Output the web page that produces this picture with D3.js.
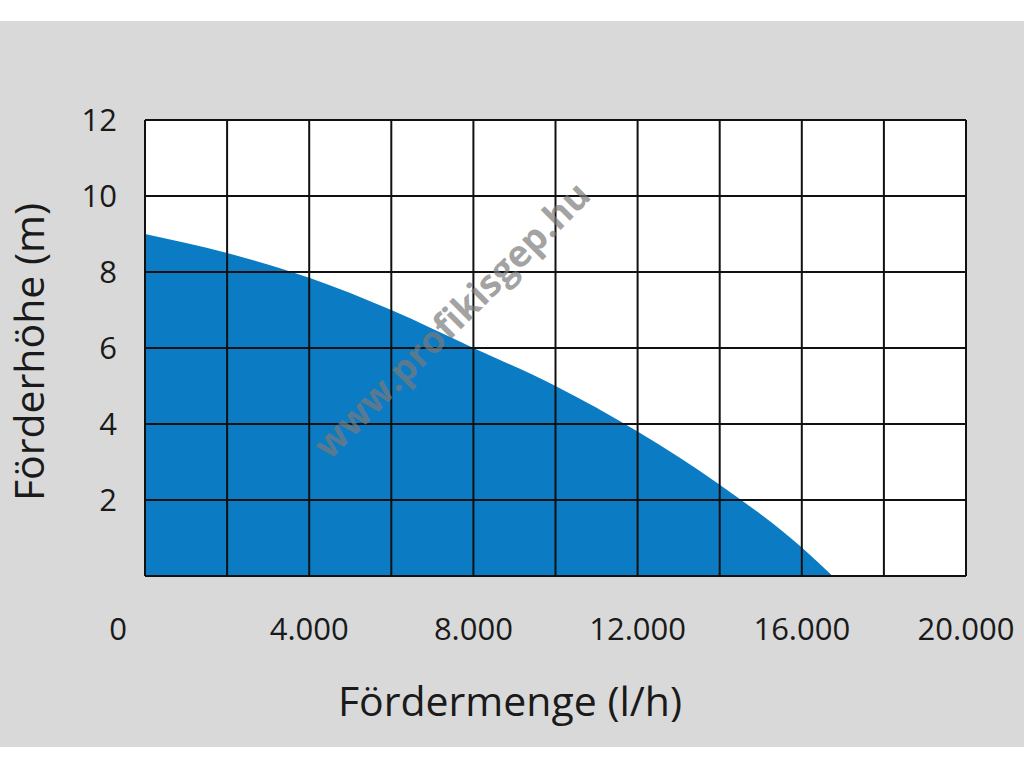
<!DOCTYPE html>
<html>
<head>
<meta charset="utf-8">
<script src="https://cdnjs.cloudflare.com/ajax/libs/d3/7.8.5/d3.min.js"></script>
<style>
  html, body { margin: 0; padding: 0; background: #fff; }
  svg { display: block; }
  text { font-family: "Open Sans", sans-serif; fill: #1a1a1a; }
</style>
</head>
<body>
<div id="chart"></div>
<script>
/* -----------------------
data
------------------------- */
var flow = [0, 2000, 4000, 6000, 8000, 10000, 12000, 14000, 16000, 16750];
var head = [9.0, 8.5, 7.85, 7.0, 6.0, 5.0, 3.8, 2.4, 0.75, 0];

var xTicks = [0, 4000, 8000, 12000, 16000, 20000];
var xTickLabels = ["0", "4.000", "8.000", "12.000", "16.000", "20.000"];
var yTicks = [2, 4, 6, 8, 10, 12];
var xGrid = d3.range(0, 20001, 2000);
var yGrid = d3.range(0, 13, 2);

/* -----------------------
main variables
------------------------- */
var width = 1024, height = 768;
var margin = {top: 120, right: 58, bottom: 192, left: 145},
    plot_w = width - margin.left - margin.right,
    plot_h = height - margin.top - margin.bottom;

var svg = d3.select("#chart")
    .append("svg")
    .attr("width", width)
    .attr("height", height);

// gray panel
svg.append("rect")
    .attr("x", 0).attr("y", 21)
    .attr("width", width).attr("height", 726)
    .attr("fill", "#d9d9d9");

var plot = svg.append("g")
    .attr("transform", "translate(" + margin.left + "," + margin.top + ")");

var x = d3.scaleLinear().domain([0, 20000]).range([0, plot_w]);
var y = d3.scaleLinear().domain([0, 12]).range([plot_h, 0]);

plot.append("rect")
    .attr("width", plot_w).attr("height", plot_h)
    .attr("fill", "#fff");

/* -----------------------
curve area
------------------------- */
var pts = flow.map(function(f, i) { return {f: f, h: head[i]}; });

var area = d3.area()
    .curve(d3.curveMonotoneX)
    .x(function(d) { return x(d.f); })
    .y0(y(0))
    .y1(function(d) { return y(d.h); });

plot.append("path")
    .datum(pts)
    .attr("d", area)
    .attr("fill", "#0b7bc4");

/* -----------------------
grid
------------------------- */
plot.selectAll(".vgrid")
    .data(xGrid)
    .enter().append("line")
    .attr("x1", function(d) { return x(d); })
    .attr("x2", function(d) { return x(d); })
    .attr("y1", 0).attr("y2", plot_h)
    .attr("stroke", "#111").attr("stroke-width", 2);

plot.selectAll(".hgrid")
    .data(yGrid)
    .enter().append("line")
    .attr("y1", function(d) { return y(d); })
    .attr("y2", function(d) { return y(d); })
    .attr("x1", 0).attr("x2", plot_w)
    .attr("stroke", "#111").attr("stroke-width", 2);

/* -----------------------
axes labels
------------------------- */
plot.selectAll(".xlab")
    .data(xTicks)
    .enter().append("text")
    .attr("x", function(d) { return d === 0 ? x(d) - 27 : x(d); })
    .attr("y", plot_h + 64)
    .attr("font-size", "31px")
    .style("text-anchor", "middle")
    .text(function(d, i) { return xTickLabels[i]; });

plot.selectAll(".ylab")
    .data(yTicks)
    .enter().append("text")
    .attr("x", -28)
    .attr("y", function(d) { return y(d); })
    .attr("dy", "0.35em")
    .attr("font-size", "31px")
    .style("text-anchor", "end")
    .text(function(d) { return d; });

svg.append("text")
    .attr("x", 510).attr("y", 716)
    .attr("font-size", "41px")
    .style("text-anchor", "middle")
    .text("Fördermenge (l/h)");

svg.append("text")
    .attr("transform", "translate(44,352) rotate(-90)")
    .attr("font-size", "41px")
    .style("text-anchor", "middle")
    .text("Förderhöhe (m)");

/* -----------------------
watermark
------------------------- */
svg.append("text")
    .attr("transform", "translate(452,320) rotate(-45)")
    .attr("font-size", "37px")
    .attr("font-weight", "bold")
    .attr("dy", "0.35em")
    .style("text-anchor", "middle")
    .style("fill", "#7a7a7a")
    .style("fill-opacity", 0.7)
    .text("www.profikisgep.hu");
</script>
</body>
</html>
